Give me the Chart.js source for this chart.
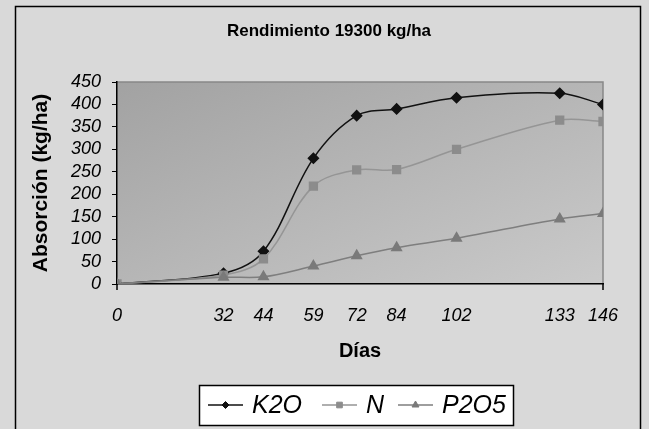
<!DOCTYPE html>
<html>
<head>
<meta charset="utf-8">
<script src="https://cdn.jsdelivr.net/npm/chart.js@4"></script>
<style>
  html, body { margin: 0; padding: 0; background: #d9d9d9; }
  #wrap { width: 649px; height: 429px; position: relative; }
</style>
</head>
<body>
<div id="wrap"><canvas id="absChart" width="649" height="429"></canvas></div>
<script>
// datos
const dias = [0, 32, 44, 59, 72, 84, 102, 133, 146];
const k2o = [0, 24, 73, 280, 375, 390, 415, 425, 400];
const nitrogeno = [0, 20, 56, 218, 254, 255, 300, 365, 362];
const p2o5 = [0, 15, 16, 40, 63, 81, 102, 145, 157];
const yTicks = [0, 50, 100, 150, 200, 250, 300, 350, 400, 450];

const pts = vals => dias.map((d, i) => ({ x: d, y: vals[i] }));

// fondo, marco, título y leyenda
const decor = {
  id: "decor",
  beforeDraw(chart) {
    const { ctx, chartArea: a } = chart;
    ctx.save();
    ctx.fillStyle = "#d9d9d9";
    ctx.fillRect(0, 0, chart.width, chart.height);
    ctx.strokeStyle = "#000";
    ctx.lineWidth = 1.5;
    ctx.strokeRect(15.5, 6.5, 625, 440);
    // degradado diagonal en coordenadas normalizadas
    ctx.save();
    ctx.translate(a.left, a.top);
    ctx.scale(a.right - a.left, a.bottom - a.top);
    const g = ctx.createLinearGradient(0, 0, 1, 1);
    g.addColorStop(0, "#a2a2a2");
    g.addColorStop(1, "#cacaca");
    ctx.fillStyle = g;
    ctx.fillRect(0, 0, 1, 1);
    ctx.restore();
    ctx.strokeStyle = "#888";
    ctx.lineWidth = 1.5;
    ctx.beginPath();
    ctx.moveTo(a.left, a.top);
    ctx.lineTo(a.right, a.top);
    ctx.lineTo(a.right, a.bottom);
    ctx.stroke();
    ctx.fillStyle = "#000";
    ctx.font = "bold 17px 'Liberation Sans', Arial, sans-serif";
    ctx.textAlign = "center";
    ctx.textBaseline = "middle";
    ctx.fillText("Rendimiento 19300 kg/ha", 329, 31);
    ctx.restore();
  },
  afterDraw(chart) {
    const { ctx, chartArea: a } = chart;
    ctx.save();
    // marcas del eje x solo en los extremos
    ctx.strokeStyle = "#000";
    ctx.lineWidth = 1.5;
    ctx.beginPath();
    ctx.moveTo(a.left, a.bottom);
    ctx.lineTo(a.left, a.bottom + 6);
    ctx.moveTo(a.right, a.bottom);
    ctx.lineTo(a.right, a.bottom + 6);
    ctx.stroke();

    ctx.fillStyle = "#fff";
    ctx.fillRect(199, 385, 314, 40);
    ctx.strokeRect(199.5, 385.5, 314, 40);
    const items = [
      { ds: chart.data.datasets[0], x: 208 },
      { ds: chart.data.datasets[1], x: 322 },
      { ds: chart.data.datasets[2], x: 398 }
    ];
    const cy = 405;
    ctx.font = "italic 25px 'Liberation Sans', Arial, sans-serif";
    ctx.textBaseline = "middle";
    ctx.textAlign = "left";
    items.forEach(it => {
      ctx.strokeStyle = it.ds.borderColor;
      ctx.lineWidth = 1.5;
      ctx.beginPath();
      ctx.moveTo(it.x, cy);
      ctx.lineTo(it.x + 35, cy);
      ctx.stroke();
      ctx.fillStyle = it.ds.pointBackgroundColor;
      ctx.strokeStyle = it.ds.pointBorderColor;
      ctx.lineWidth = 1;
      Chart.helpers.drawPoint(ctx, {
        pointStyle: it.ds.pointStyle,
        radius: it.ds.pointRadius - 1.5,
        borderWidth: 1
      }, it.x + 17.5, cy);
      ctx.fillStyle = "#000";
      ctx.fillText(it.ds.label, it.x + 44, cy + 1);
    });
    ctx.restore();
  }
};

Chart.defaults.font.family = "'Liberation Sans', Arial, sans-serif";
Chart.defaults.color = "#000";

new Chart(document.getElementById("absChart"), {
  type: "line",
  data: {
    datasets: [
      {
        label: "K2O",
        data: pts(k2o),
        order: 3,
        borderColor: "#111",
        borderWidth: 1.5,
        pointStyle: "rectRot",
        pointRadius: 5,
        pointBackgroundColor: "#111",
        pointBorderColor: "#111",
        tension: 0.35
      },
      {
        label: "N",
        data: pts(nitrogeno),
        order: 2,
        borderColor: "#959595",
        borderWidth: 1.5,
        pointStyle: "rect",
        pointRadius: 5.5,
        pointBackgroundColor: "#8c8c8c",
        pointBorderColor: "#8c8c8c",
        tension: 0.35
      },
      {
        label: "P2O5",
        data: pts(p2o5),
        order: 1,
        borderColor: "#7e7e7e",
        borderWidth: 1.5,
        pointStyle: "triangle",
        pointRadius: 5.5,
        pointBackgroundColor: "#7a7a7a",
        pointBorderColor: "#7a7a7a",
        tension: 0.35
      }
    ]
  },
  options: {
    responsive: false,
    animation: false,
    layout: { padding: { left: 0, top: 82, right: 46, bottom: 0 } },
    plugins: { legend: { display: false }, tooltip: { enabled: false } },
    scales: {
      x: {
        type: "linear",
        min: 0,
        max: 146,
        afterBuildTicks: s => { s.ticks = dias.map(v => ({ value: v })); },
        afterFit: s => { s.height = 145; },
        border: { display: true, color: "#000", width: 1.5 },
        grid: { display: true, drawOnChartArea: false, drawTicks: true, tickLength: 6, color: "rgba(0,0,0,0)" },
        ticks: {
          autoSkip: false,
          maxRotation: 0,
          padding: 15,
          font: { size: 18, style: "italic" },
          color: "#000"
        },
        title: {
          display: true,
          text: "Días",
          font: { size: 20, weight: "bold" },
          padding: { top: 0, bottom: 66 }
        }
      },
      y: {
        min: 0,
        max: 450,
        afterBuildTicks: s => { s.ticks = yTicks.map(v => ({ value: v })); },
        afterFit: s => { s.width = 117; },
        border: { display: true, color: "#000", width: 1.5 },
        grid: { drawOnChartArea: false, drawTicks: true, tickLength: 5, color: "#000" },
        ticks: {
          autoSkip: false,
          padding: 11,
          font: { size: 18, style: "italic" },
          color: "#000"
        },
        title: {
          display: true,
          text: "Absorción (kg/ha)",
          font: { size: 21, weight: "bold" },
          padding: { top: 29, bottom: 0 }
        }
      }
    }
  },
  plugins: [decor]
});
</script>
</body>
</html>
